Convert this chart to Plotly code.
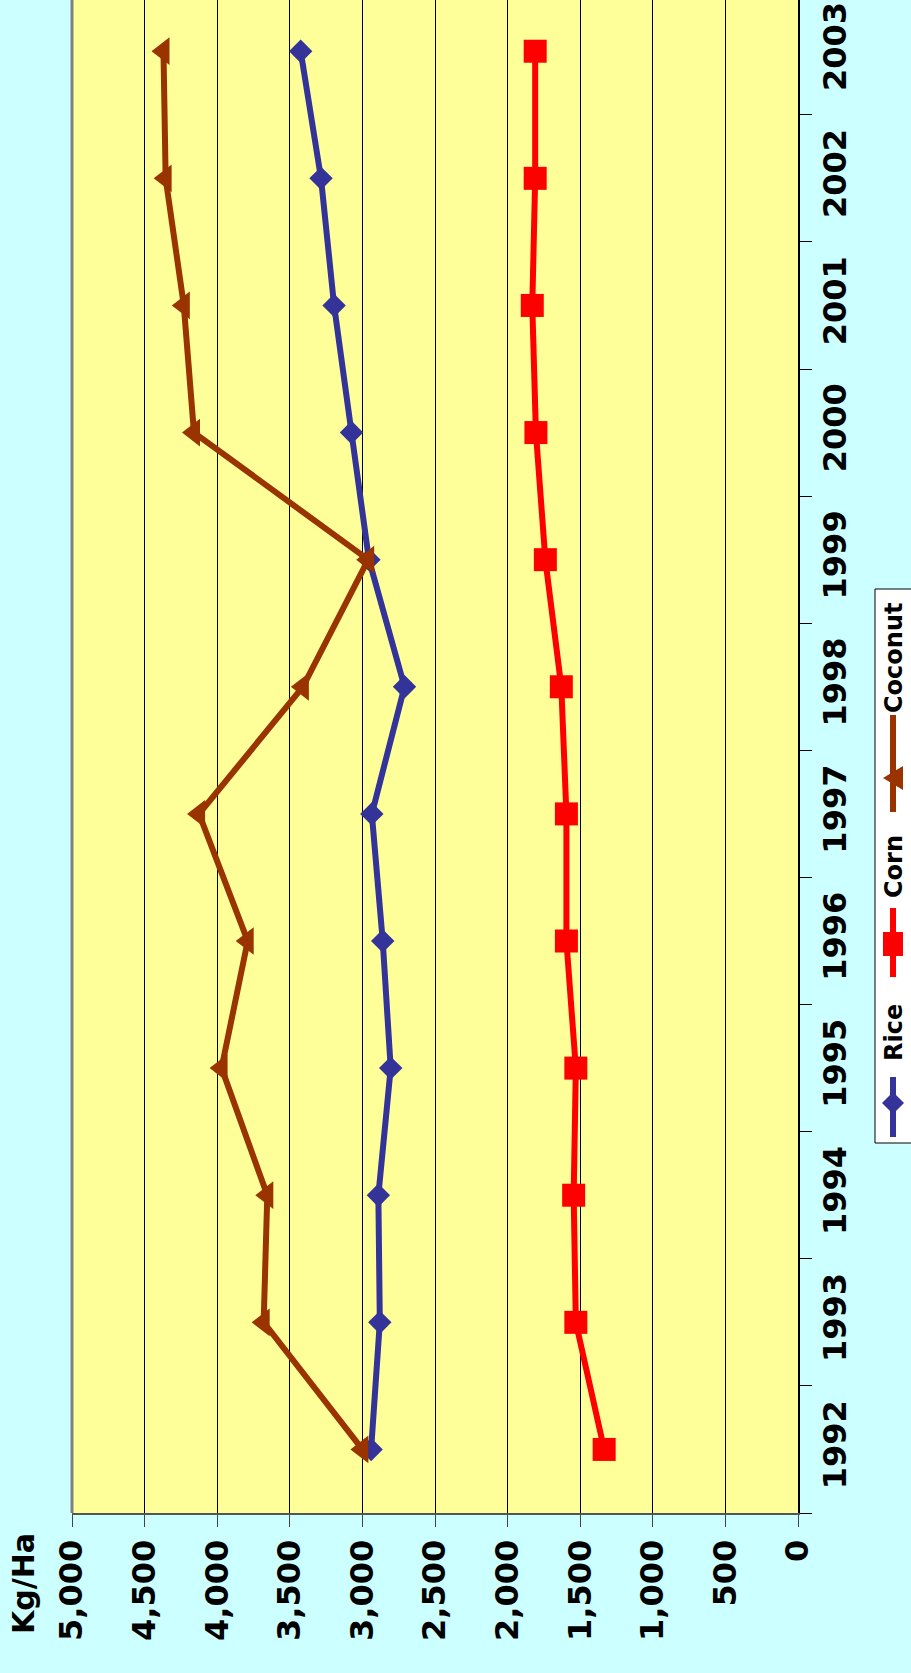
import plotly.graph_objects as go

years = ["1992", "1993", "1994", "1995", "1996", "1997",
         "1998", "1999", "2000", "2001", "2002", "2003"]
rice = [2940, 2880, 2890, 2805, 2860, 2935, 2710, 2955, 3075, 3195, 3285, 3425]
corn = [1335, 1530, 1545, 1530, 1595, 1595, 1630, 1740, 1805, 1830, 1810, 1810]
coconut = [3000, 3680, 3655, 3970, 3790, 4125, 3410, 2960, 4160, 4230, 4355, 4370]
value_ticks = list(range(0, 5001, 500))

COLORS = {
    "rice": "#333399",
    "corn": "#FF0000",
    "coconut": "#993300",
    "paper": "#CCFFFF",
    "plot": "#FFFF99",
}

W, H = 911, 1673
ML, MR, MT, MB = 72, 113, 0, 160
PW, PH = W - ML - MR, H - MT - MB


def px(x):
    return (x - ML) / PW


def py(y):
    return (H - MB - y) / PH


FONT = dict(family="DejaVu Sans", color="black", weight="bold")

fig = go.Figure()
for name, vals, sym, size in [
    ("Rice", rice, "diamond", 18),
    ("Corn", corn, "square", 23),
    ("Coconut", coconut, "triangle-left", 24),
]:
    key = name.lower()
    fig.add_trace(go.Scatter(
        x=vals, y=years, mode="lines+markers", name=name,
        line=dict(color=COLORS[key], width=6),
        marker=dict(symbol=sym, size=size, color=COLORS[key]),
        cliponaxis=False,
    ))

# legend drawn by hand because its text is rotated
shapes = [
    dict(type="line", xref="paper", yref="paper", x0=0, x1=0, y0=0, y1=1,
         line=dict(color="#808080", width=3)),
    dict(type="rect", xref="paper", yref="paper",
         x0=px(875), x1=px(916), y0=py(589), y1=py(1143),
         fillcolor="white", line=dict(color="black", width=1)),
]
lx = 893
for (y0, y1), key in [((1077, 1137), "rice"), ((908, 977), "corn"), ((715, 812), "coconut")]:
    shapes.append(dict(type="line", xref="paper", yref="paper",
                       x0=px(lx), x1=px(lx), y0=py(y0), y1=py(y1),
                       line=dict(color=COLORS[key], width=6)))


def path(points):
    return "M " + " L ".join(f"{px(a)},{py(b)}" for a, b in points) + " Z"


cy = 1103
shapes.append(dict(type="path", xref="paper", yref="paper", fillcolor=COLORS["rice"],
                   line=dict(width=0),
                   path=path([(lx - 11, cy), (lx, cy - 11), (lx + 11, cy), (lx, cy + 11)])))
cy = 944
shapes.append(dict(type="path", xref="paper", yref="paper", fillcolor=COLORS["corn"],
                   line=dict(width=0),
                   path=path([(lx - 10, cy - 12), (lx + 10, cy - 12), (lx + 10, cy + 12), (lx - 10, cy + 12)])))
cy = 778
shapes.append(dict(type="path", xref="paper", yref="paper", fillcolor=COLORS["coconut"],
                   line=dict(width=0),
                   path=path([(lx - 10, cy), (lx + 10, cy - 12), (lx + 10, cy + 12)])))

annotations = [
    dict(text="Kg/Ha", xref="paper", yref="paper", x=px(24), y=py(1584),
         xanchor="center", yanchor="middle",
         showarrow=False, textangle=-90, font=dict(size=30, **FONT)),
]
for text, yc in [("Rice", 1033), ("Corn", 867), ("Coconut", 658)]:
    annotations.append(dict(text=text, xref="paper", yref="paper", x=px(894), y=py(yc),
                            xanchor="center", yanchor="middle",
                            showarrow=False, textangle=-90, font=dict(size=24, **FONT)))

fig.update_layout(
    width=W, height=H,
    margin=dict(l=ML, r=MR, t=MT, b=MB, pad=0),
    paper_bgcolor=COLORS["paper"],
    plot_bgcolor=COLORS["plot"],
    showlegend=False,
    shapes=shapes,
    annotations=annotations,
)
fig.update_xaxes(
    range=[5000, 0], tickvals=value_ticks, tickformat=",", tickangle=-90,
    ticks="outside", ticklen=12, tickcolor="#444444", tickwidth=1,
    showgrid=True, gridcolor="black", gridwidth=1, zeroline=False,
    showline=True, linecolor="#555555", linewidth=2, automargin=False,
    tickfont=dict(size=32, **FONT),
)
fig.update_yaxes(
    type="category", categoryarray=years, categoryorder="array",
    range=[-0.5, 11.403], side="right", tickangle=-90,
    ticks="outside", tickson="boundaries", ticklen=12, tickcolor="black",
    ticklabelstandoff=8,
    showgrid=False, zeroline=False, automargin=False,
    showline=True, linecolor="black", linewidth=2,
    tickfont=dict(size=32, **FONT),
)

# the page body has an 8px default margin; remove it so the figure fills the window
fig.write_html("out.html", config={"displayModeBar": False},
               post_script="document.body.style.margin='0';")
